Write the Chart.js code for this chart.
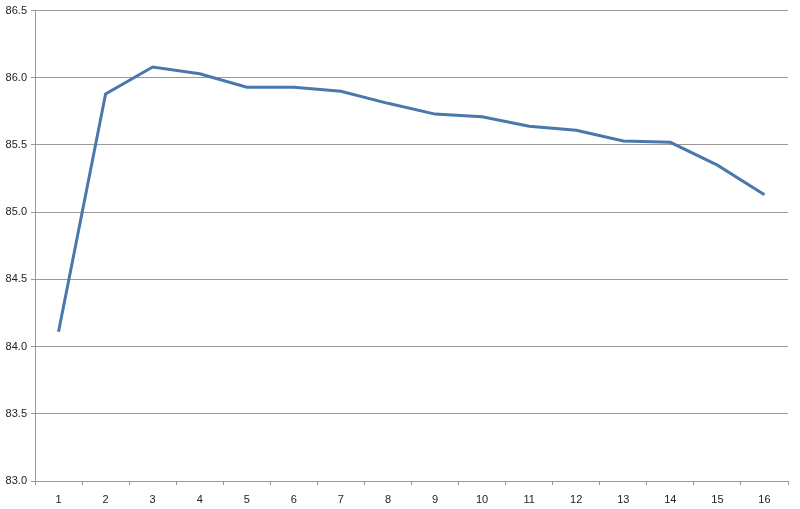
<!DOCTYPE html>
<html>
<head>
<meta charset="utf-8">
<script src="https://cdn.jsdelivr.net/npm/chart.js@4"></script>
<style>
html,body{margin:0;padding:0;background:#fff;}
#wrap{width:800px;height:509px;position:relative;}
</style>
</head>
<body>
<div id="wrap"><canvas id="c" width="800" height="509"></canvas></div>
<script>
const categories = ["1","2","3","4","5","6","7","8","9","10","11","12","13","14","15","16"];
const seriesValues = [84.11, 85.88, 86.08, 86.03, 85.93, 85.93, 85.90, 85.81, 85.73, 85.71, 85.64, 85.61, 85.53, 85.52, 85.35, 85.13];
const yMin = 83.0, yMax = 86.5, yStep = 0.5;

new Chart(document.getElementById('c'), {
  type: 'line',
  data: {
    labels: categories,
    datasets: [{
      data: seriesValues,
      borderColor: '#4a78ac',
      borderWidth: 3,
      pointRadius: 0,
      tension: 0,
      fill: false
    }]
  },
  options: {
    responsive: false,
    animation: false,
    devicePixelRatio: 1,
    layout: { padding: { top: 6, right: 12, left: 0, bottom: 0 } },
    plugins: { legend: { display: false }, tooltip: { enabled: false } },
    scales: {
      x: {
        offset: true,
        grid: { offset: true, drawOnChartArea: false, drawTicks: true, tickLength: 4, color: '#999' },
        border: { color: '#999', width: 1 },
        ticks: { color: '#222', font: { family: 'Liberation Sans', size: 11 }, padding: 8, maxRotation: 0 },
        afterFit: s => { s.height = 28; }
      },
      y: {
        min: yMin, max: yMax,
        grid: { color: '#999', tickLength: 4 },
        border: { color: '#999', width: 1 },
        ticks: { stepSize: yStep, color: '#222', font: { family: 'Liberation Sans', size: 11 }, padding: 4,
                 callback: v => Number(v).toFixed(1) },
        afterFit: s => { s.width = 35; }
      }
    }
  }
});
</script>
</body>
</html>
